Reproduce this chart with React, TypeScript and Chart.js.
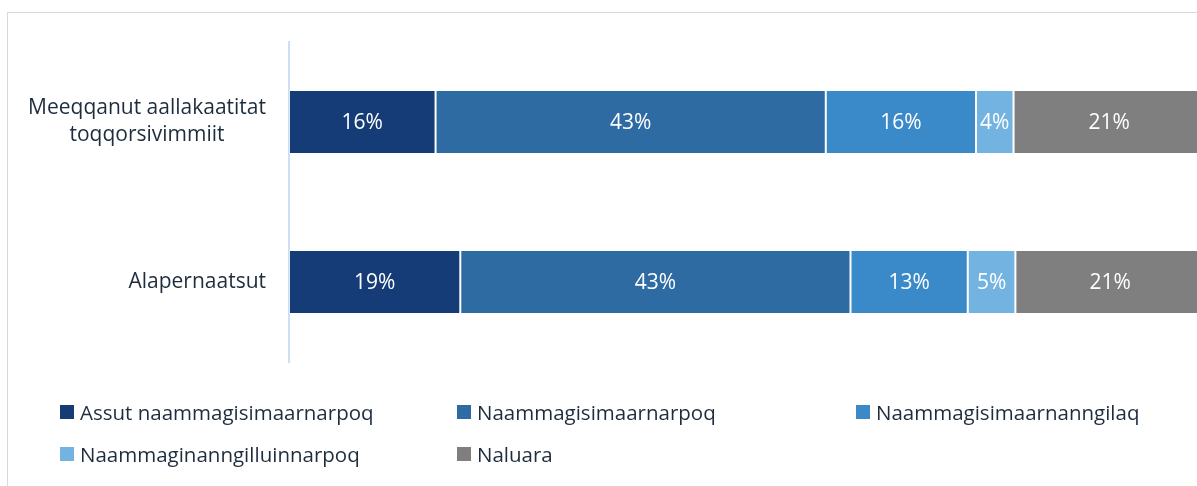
import React, { useEffect, useRef } from "react";
import { Chart, registerables } from "chart.js";

Chart.register(...registerables);

const categories: string[][] = [
  ["Meeqqanut aallakaatitat", "toqqorsivimmiit"],
  ["Alapernaatsut"],
];
const seriesNames = [
  "Assut naammagisimaarnarpoq",
  "Naammagisimaarnarpoq",
  "Naammagisimaarnanngilaq",
  "Naammaginanngilluinnarpoq",
  "Naluara",
];
const assutNaammagisimaarnarpoq = [16.0, 18.7];
const naammagisimaarnarpoq = [42.6, 42.6];
const naammagisimaarnanngilaq = [16.4, 12.8];
const naammaginanngilluinnarpoq = [4.1, 5.2];
const naluara = [20.9, 20.7];
const seriesValues = [
  assutNaammagisimaarnarpoq,
  naammagisimaarnarpoq,
  naammagisimaarnanngilaq,
  naammaginanngilluinnarpoq,
  naluara,
];
const seriesColors = ["#153c76", "#2e6ba2", "#3a89c9", "#72b3e1", "#7f7f7f"];

const FONT = "'Open Sans', 'Noto Sans', sans-serif";
const TEXT_COLOR = "#1e2d3d";

const yLabelPlugin = {
  id: "yLabels",
  afterDraw(chart: any) {
    const scale = chart.scales.y;
    const ctx = chart.ctx;
    ctx.save();
    ctx.font = `21px ${FONT}`;
    ctx.fillStyle = TEXT_COLOR;
    ctx.textAlign = "center";
    ctx.textBaseline = "middle";
    const lineHeight = 27;
    const pad = 23;
    categories.forEach((lines, i) => {
      const y = scale.getPixelForTick(i);
      const blockW = Math.max(...lines.map((l) => ctx.measureText(l).width));
      const cx = scale.right - pad - blockW / 2;
      lines.forEach((line, j) => {
        const ly = y + (j - (lines.length - 1) / 2) * lineHeight;
        ctx.fillText(line, cx, ly);
      });
    });
    ctx.restore();
  },
};

const barLabelPlugin = {
  id: "barLabels",
  afterDatasetsDraw(chart: any) {
    const ctx = chart.ctx;
    ctx.save();
    ctx.font = `21px ${FONT}`;
    ctx.fillStyle = "#ffffff";
    ctx.textAlign = "center";
    ctx.textBaseline = "middle";
    chart.data.datasets.forEach((ds: any, di: number) => {
      const meta = chart.getDatasetMeta(di);
      meta.data.forEach((el: any, i: number) => {
        const v = ds.data[i];
        const cx = (el.x + el.base) / 2;
        ctx.fillText(`${Math.round(v)}%`, cx, el.y + 1);
      });
    });
    ctx.restore();
  },
};

export default function App() {
  const ref = useRef<HTMLCanvasElement | null>(null);

  useEffect(() => {
    if (!ref.current) return;
    const chart = new Chart(ref.current, {
      type: "bar",
      data: {
        labels: categories.map((c) => c.join(" ")),
        datasets: seriesNames.map((name, i) => ({
          label: name,
          data: seriesValues[i],
          backgroundColor: seriesColors[i],
          borderColor: "rgba(255,255,255,0.3)",
          borderWidth: 1,
          borderSkipped: false,
          barPercentage: 0.4,
          categoryPercentage: 1,
        })),
      },
      options: {
        indexAxis: "y",
        responsive: false,
        animation: false,
        layout: { padding: { top: 29, bottom: 31, left: 0, right: 13 } },
        plugins: {
          legend: { display: false },
          tooltip: { enabled: false },
        },
        scales: {
          x: { stacked: true, min: 0, max: 100, display: false },
          y: {
            stacked: true,
            grid: { display: false, drawTicks: false },
            border: { display: true, color: "#cddff1", width: 2 },
            ticks: { display: false },
            afterFit: (scale: any) => {
              scale.width = 281;
            },
          },
        },
      },
      plugins: [yLabelPlugin, barLabelPlugin],
    });
    return () => chart.destroy();
  }, []);

  return (
    <div style={{ position: "fixed", inset: 0, overflow: "hidden", background: "#fff" }}>
      <div
        style={{
          position: "absolute",
          left: 7,
          top: 12,
          width: 1230,
          height: 520,
          border: "1px solid #d9d9d9",
          boxSizing: "border-box",
        }}
      >
        <canvas
          ref={ref}
          width={1210}
          height={380}
          style={{ position: "absolute", left: 0, top: 0, width: 1210, height: 380 }}
        />
        <div
          style={{
            position: "absolute",
            left: 52,
            top: 378,
            display: "grid",
            gridTemplateColumns: "397px 399px auto",
            gridAutoRows: "42px",
            fontFamily: FONT,
            fontSize: 20.5,
            color: TEXT_COLOR,
          }}
        >
          {seriesNames.map((name, i) => (
            <div key={name} style={{ display: "flex", alignItems: "center", whiteSpace: "nowrap" }}>
              <span
                style={{
                  display: "inline-block",
                  width: 14,
                  height: 14,
                  background: seriesColors[i],
                  marginRight: 6,
                  flex: "none",
                }}
              />
              <span>{name}</span>
            </div>
          ))}
        </div>
      </div>
    </div>
  );
}
